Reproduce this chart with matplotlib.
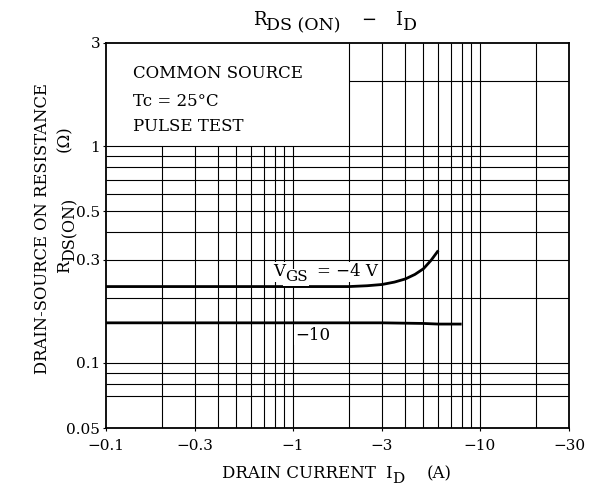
import matplotlib
matplotlib.use("Agg")
import matplotlib.pyplot as plt

plt.rcParams['font.family'] = ['DejaVu Serif']
plt.rcParams['mathtext.fontset'] = 'dejavuserif'

# Data (|I_D| in A, R_DS(ON) in ohm)
id_vgs4 = [0.1, 0.5, 1.0, 2.0, 2.5, 3.0, 3.5, 4.0, 4.5, 5.0, 5.5, 6.0]
r_vgs4 = [0.225, 0.225, 0.225, 0.225, 0.227, 0.230, 0.236, 0.244, 0.256, 0.272, 0.298, 0.330]
id_vgs10 = [0.1, 1.0, 3.0, 5.0, 6.0, 8.0]
r_vgs10 = [0.153, 0.153, 0.153, 0.152, 0.151, 0.151]

xticks = [0.1, 0.3, 1, 3, 10, 30]
xticklabels = ['\u22120.1', '\u22120.3', '\u22121', '\u22123', '\u221210', '\u221230']
yticks = [0.05, 0.1, 0.3, 0.5, 1, 3]
yticklabels = ['0.05', '0.1', '0.3', '0.5', '1', '3']

vgrid = [0.2, 0.3, 0.4, 0.5, 0.6, 0.7, 0.8, 0.9, 1, 2, 3, 4, 5, 6, 7, 8, 9, 10, 20]
hgrid = [0.07, 0.08, 0.09, 0.1, 0.2, 0.3, 0.4, 0.5, 0.6, 0.7, 0.8, 0.9, 1]
hgrid_upper = [2]

W, H = 597, 493
fig = plt.figure(figsize=(W / 100, H / 100), dpi=100)


def fx(x):
    return x / W


def fy(y):
    return 1 - y / H


L, R, B, T = 105.7, 569, 428, 43
ax = fig.add_axes([L / W, (H - B) / H, (R - L) / W, (B - T) / H])
ax.set_xscale('log')
ax.set_yscale('log')
ax.set_xlim(0.1, 30)
ax.set_ylim(0.05, 3)

gc = 'black'
glw = 0.8
for x in vgrid:
    top = 3 if x >= 2 else 1
    ax.vlines(x, 0.05, top, color=gc, lw=glw, zorder=1)
for y in hgrid:
    ax.hlines(y, 0.1, 30, color=gc, lw=glw, zorder=1)
for y in hgrid_upper:
    ax.hlines(y, 2, 30, color=gc, lw=glw, zorder=1)

ax.plot(id_vgs4, r_vgs4, color='black', lw=2.0, zorder=3, solid_capstyle='butt')
ax.plot(id_vgs10, r_vgs10, color='black', lw=2.0, zorder=3, solid_capstyle='butt')

# Curve labels (anchored in data, pieces offset in pixels)
anchor = (0.785, 0.262)
wb = dict(facecolor='white', edgecolor='none', pad=1.2)
for txt, size, dx, dy in [('V', 12, 0, -4), ('GS', 11, 12, -9), ('= \u22124 V', 12, 44, -4)]:
    ax.annotate(txt, xy=anchor, xycoords='data', xytext=(dx, dy), textcoords='offset pixels',
                fontsize=size, ha='left', va='baseline', zorder=4, bbox=wb)
ax.text(1.28, 0.134, '\u221210', fontsize=12, ha='center', va='center', zorder=4, bbox=wb)

ax.set_xticks(xticks)
ax.set_xticklabels(xticklabels, fontsize=11)
ax.set_yticks(yticks)
ax.set_yticklabels(yticklabels, fontsize=11)
ax.minorticks_off()
ax.tick_params(axis='x', length=2, width=0.8, pad=6, direction='out')
ax.tick_params(axis='y', length=2, width=0.8, pad=2, direction='out')
for s in ax.spines.values():
    s.set_linewidth(1.3)

# Box text
for txt, yp in [('COMMON SOURCE', 73), ('Tc = 25\u00b0C', 101), ('PULSE TEST', 127)]:
    fig.text(fx(132.7), fy(yp), txt, fontsize=12, ha='left', va='center')

# Title pieces
for txt, size, xp, yp in [('R', 13, 253, 25), ('DS (ON)', 12.5, 266, 30), ('\u2212', 13, 361, 25),
                          ('I', 13, 395, 25), ('D', 12.5, 403, 30)]:
    fig.text(fx(xp), fy(yp), txt, fontsize=size, ha='left', va='baseline')

# X label pieces
for txt, size, xp, yp in [('DRAIN CURRENT', 12, 222, 478), ('I', 12, 385, 478),
                          ('D', 11, 392, 483), ('(A)', 12, 427, 478)]:
    fig.text(fx(xp), fy(yp), txt, fontsize=size, ha='left', va='baseline')

# Y label
fig.text(fx(43), fy(229), 'DRAIN-SOURCE ON RESISTANCE', fontsize=11.8,
         rotation=90, ha='center', va='center')
for txt, size, xp, yp in [('R', 12, 69, 273), ('DS(ON)', 11.5, 74, 261), ('(\u03a9)', 12, 69, 152)]:
    fig.text(fx(xp), fy(yp), txt, fontsize=size, rotation=90, rotation_mode='anchor',
             ha='left', va='baseline')

fig.savefig('out.png', dpi=100)
